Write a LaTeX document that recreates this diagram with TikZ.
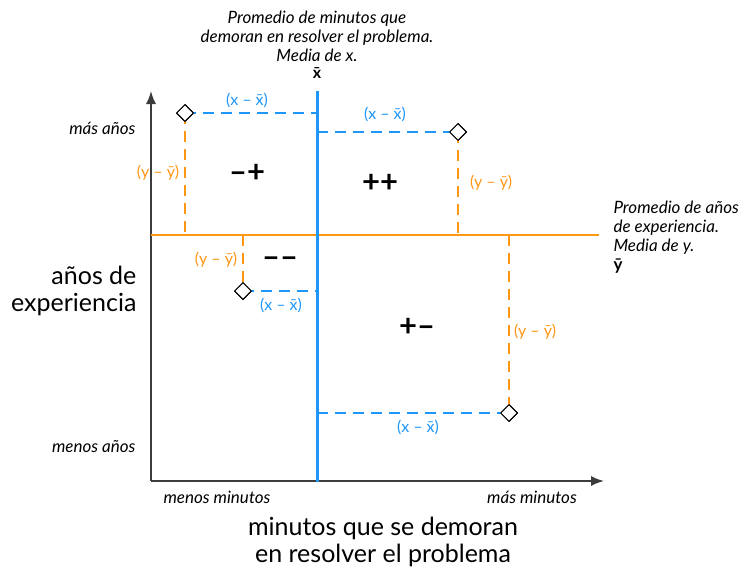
\documentclass[tikz,border=0pt]{standalone}
\usepackage{fontspec}
\setmainfont{Lato}
\usetikzlibrary{arrows.meta,shapes.geometric}
\definecolor{xblue}{RGB}{30,150,250}
\definecolor{yorange}{RGB}{255,150,20}
\definecolor{axisgray}{RGB}{60,60,60}
\tikzset{
  axisline/.style={draw=axisgray,line width=1.6pt},
  meanx/.style={draw=xblue,line width=3pt},
  meany/.style={draw=yorange,line width=2.8pt},
  devx/.style={draw=xblue,line width=2.4pt,dash pattern=on 11pt off 7pt},
  devy/.style={draw=yorange,line width=2.4pt,dash pattern=on 11pt off 7pt},
  pt/.style={diamond,draw=black,fill=white,line width=1pt,inner sep=0pt,minimum width=17pt,minimum height=17pt},
  xlab/.style={text=xblue,font=\fontsize{16}{18}\selectfont,inner sep=1pt},
  ylab/.style={text=yorange,font=\fontsize{16}{18}\selectfont,inner sep=1pt},
  signlab/.style={font=\bfseries\fontsize{31}{33}\selectfont},
  note/.style={font=\itshape\fontsize{17}{19}\selectfont},
  big/.style={font=\fontsize{25}{27}\selectfont},
}
\begin{document}
\begin{tikzpicture}[x=1pt,y=-1pt]
\useasboundingbox (0,0) rectangle (752,581);
% axes
\coordinate (O) at (151,481);
\coordinate (ytop) at (151,91);
\coordinate (xend) at (604,481);
\draw[axisline,-{Latex[length=13pt,width=10pt]}] (O) -- (ytop);
\draw[axisline,-{Latex[length=13pt,width=10pt]}] (O) -- (xend);
% means
\coordinate (xbt) at (317,91);
\coordinate (xbb) at (317,482);
\coordinate (ybl) at (151,235);
\coordinate (ybr) at (599,235);
% points
\node[pt] (p1) at (185,113) {};
\node[pt] (p2) at (458,132) {};
\node[pt] (p3) at (243,291) {};
\node[pt] (p4) at (509,413) {};
% foot coordinates
\coordinate (p1x) at (317,113);
\coordinate (p1y) at (185,235);
\coordinate (p2x) at (317,132);
\coordinate (p2y) at (458,235);
\coordinate (p3x) at (317,291);
\coordinate (p3y) at (243,235);
\coordinate (p4x) at (317,413);
\coordinate (p4y) at (509,235);
% deviations
\draw[devx] (p1.center) -- (p1x);
\draw[devy] (p1.center) -- (p1y);
\draw[devx] (p2x) -- (p2.center);
\draw[devy] (p2.center) -- (p2y);
\draw[devy] (p3y) -- (p3.center);
\draw[devx] (p3.center) -- (p3x);
\draw[devy] (p4y) -- (p4.center);
\draw[devx] (p4x) -- (p4.center);
\draw[meany] (ybl) -- (ybr);
\draw[meanx] (xbt) -- (xbb);
% redraw points on top
\node[pt] at (p1) {};
\node[pt] at (p2) {};
\node[pt] at (p3) {};
\node[pt] at (p4) {};
% deviation labels
\node[xlab] (lx1) at (247,100) {(x – \={x})};
\node[xlab] (lx2) at (385,114) {(x – \={x})};
\node[xlab] (lx3) at (281,305) {(x – \={x})};
\node[xlab] (lx4) at (418,427) {(x – \={x})};
\node[ylab] (ly1) at (158,173) {(y – \={y})};
\node[ylab] (ly2) at (491,183) {(y – \={y})};
\node[ylab] (ly3) at (216,260) {(y – \={y})};
\node[ylab] (ly4) at (535,332) {(y – \={y})};
% signs
\node[signlab] (s1) at (247,173) {–+};
\node[signlab] (s2) at (380,183) {++};
\node[signlab] (s3) at (280,262) {––};
\node[signlab] (s4) at (417,327) {+–};
% notes
\node[note,align=center] (nx) at (317,36) {Promedio de minutos que\\demoran en resolver el problema.\\Media de x.};
\node[font=\bfseries\fontsize{16}{17}\selectfont] (xbar) at (317,73) {\={x}};
\node[note,align=left,anchor=north west] (ny) at (610,197) {Promedio de años\\de experiencia.\\Media de y.\\\upshape\bfseries\={y}};
\node[note,anchor=east] (more) at (139,128) {más años};
\node[note,anchor=east] (less) at (139,447) {menos años};
\node[note] (lessm) at (217,497) {menos minutos};
\node[note] (morem) at (532,497) {más minutos};
\node[big,align=right,anchor=east] (ylabel) at (140,291) {años de\\experiencia};
\node[big,align=center] (xlabel) at (383,542) {minutos que se demoran\\en resolver el problema};
\end{tikzpicture}
\end{document}
